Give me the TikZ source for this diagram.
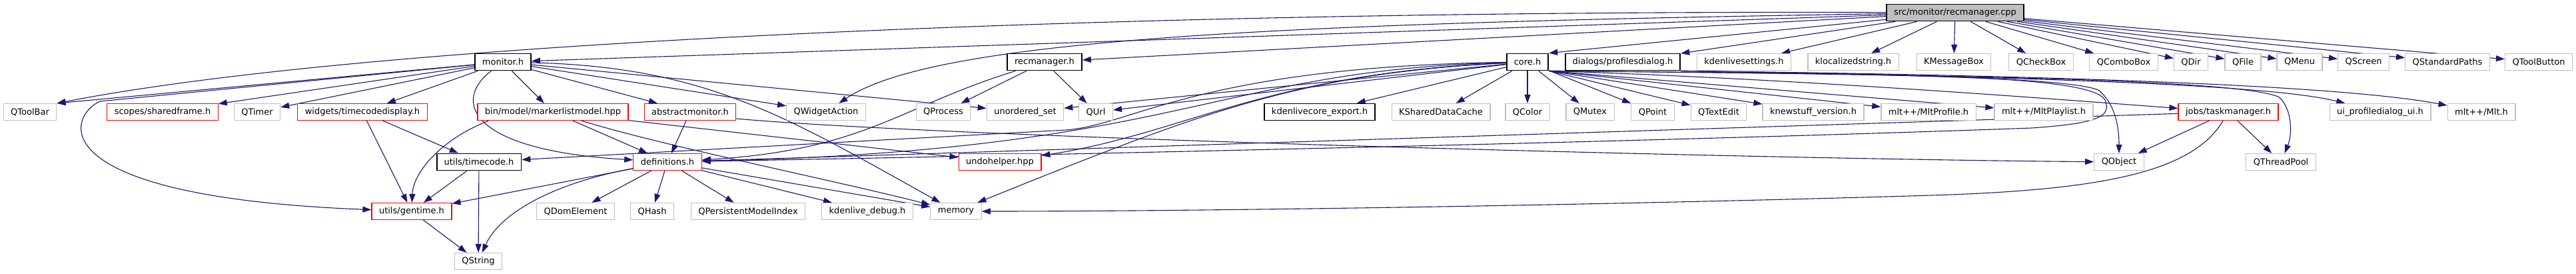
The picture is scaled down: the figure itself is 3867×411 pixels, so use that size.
\documentclass[tikz,border=0pt]{standalone}
\usepackage{fontspec}
\setmainfont{DejaVu Sans}
\usetikzlibrary{arrows.meta,backgrounds}
\definecolor{edgeblue}{HTML}{191970}
\definecolor{extgray}{HTML}{BFBFBF}

\begin{document}
\begin{tikzpicture}[x=1pt, y=-1pt,
    every node/.style={font=\fontsize{13}{15}\selectfont, inner xsep=11pt, inner ysep=0pt,
      minimum height=25pt, fill=white, line width=1.2pt},
    sysfile/.style={draw=extgray},
    fullfile/.style={draw=black, line width=1.8pt},
    cutfile/.style={draw=red},
    rootfile/.style={draw=black, fill=extgray, line width=1.8pt},
    dep/.style={draw=edgeblue, line width=1.1pt, -{Triangle[length=13pt,width=9pt]}}]
    \useasboundingbox (0,0) rectangle (3867,411);

    % The file itself
    \node[rootfile] (rc) at (2935,19) {src/monitor/recmanager.cpp};

    % First level
    \node[fullfile] (monitor) at (755,93) {monitor.h};
    \node[fullfile] (recmgr) at (1568,93) {recmanager.h};
    \node[fullfile] (core) at (2293,93) {core.h};
    \node[fullfile] (profdlg) at (2436,93) {dialogs/profilesdialog.h};
    \node[sysfile] (kdeset) at (2618,93) {kdenlivesettings.h};
    \node[sysfile] (kloc) at (2782,93) {klocalizedstring.h};
    \node[sysfile] (kmsg) at (2933,93) {KMessageBox};
    \node[sysfile] (qcheck) at (3064,93) {QCheckBox};
    \node[sysfile] (qcombo) at (3188,93) {QComboBox};
    \node[sysfile] (qdir) at (3289,93) {QDir};
    \node[sysfile] (qfile) at (3367,93) {QFile};
    \node[sysfile] (qmenu) at (3452,93) {QMenu};
    \node[sysfile] (qscreen) at (3548,93) {QScreen};
    \node[sysfile] (qstdpaths) at (3674,93) {QStandardPaths};
    \node[sysfile] (qtoolbtn) at (3811,93) {QToolButton};

    % Second level
    \node[sysfile] (qtoolbar) at (45,168) {QToolBar};
    \node[cutfile] (sharedframe) at (244,168) {scopes/sharedframe.h};
    \node[sysfile] (qtimer) at (386,168) {QTimer};
    \node[cutfile] (tcdisplay) at (544,168) {widgets/timecodedisplay.h};
    \node[cutfile] (markerlist) at (830,168) {bin/model/markerlistmodel.hpp};
    \node[cutfile] (absmon) at (1036,168) {abstractmonitor.h};
    \node[sysfile] (qwidgetaction) at (1240,168) {QWidgetAction};
    \node[sysfile] (qprocess) at (1416,168) {QProcess};
    \node[sysfile] (unordset) at (1539,168) {unordered\_set};
    \node[sysfile] (qurl) at (1645,168) {QUrl};
    \node[fullfile] (coreexport) at (1981,168) {kdenlivecore\_export.h};
    \node[sysfile] (kshared) at (2163,168) {KSharedDataCache};
    \node[sysfile] (qcolor) at (2293,168) {QColor};
    \node[sysfile] (qmutex) at (2387,168) {QMutex};
    \node[sysfile] (qpoint) at (2481,168) {QPoint};
    \node[sysfile] (qtextedit) at (2580,168) {QTextEdit};
    \node[sysfile] (knewstuff) at (2722,168) {knewstuff\_version.h};
    \node[sysfile] (mltprofile) at (2895,168) {mlt++/MltProfile.h};
    \node[sysfile] (mltplaylist) at (3068,168) {mlt++/MltPlaylist.h};
    \node[cutfile] (taskmgr) at (3345,168) {jobs/taskmanager.h};
    \node[sysfile] (uiprof) at (3573,168) {ui\_profiledialog\_ui.h};
    \node[sysfile] (mlth) at (3725,168) {mlt++/Mlt.h};

    % Third level
    \node[fullfile] (timecode) at (719,243) {utils/timecode.h};
    \node[cutfile] (definitions) at (1002,243) {definitions.h};
    \node[cutfile] (undohelper) at (1501,243) {undohelper.hpp};
    \node[sysfile] (qobject) at (3181,243) {QObject};
    \node[sysfile] (qthreadpool) at (3424,243) {QThreadPool};

    % Fourth and fifth level
    \node[cutfile] (gentime) at (618,317) {utils/gentime.h};
    \node[sysfile] (qdom) at (864,317) {QDomElement};
    \node[sysfile] (qhash) at (979,317) {QHash};
    \node[sysfile] (qpmi) at (1123,317) {QPersistentModelIndex};
    \node[sysfile] (kdebug) at (1302,317) {kdenlive\_debug.h};
    \node[sysfile] (memory) at (1435,317) {memory};
    \node[sysfile] (qstring) at (718,392) {QString};

    \begin{pgfonlayer}{background}
    % Includes of the file itself
    \draw[dep] (rc) .. controls (1800,15) and (600,55) .. (qtoolbar.north east);
    \draw[dep] (rc) .. controls (1900,35) and (1400,60) .. (qwidgetaction);
    \draw[dep] (rc) -- (monitor);
    \draw[dep] (rc) -- (recmgr);
    \draw[dep] (rc) -- (core.north east);
    \draw[dep] (rc) -- (profdlg);
    \draw[dep] (rc) -- (kdeset);
    \draw[dep] (rc) -- (kloc);
    \draw[dep] (rc) -- (kmsg);
    \draw[dep] (rc) -- (qcheck);
    \draw[dep] (rc) -- (qcombo);
    \draw[dep] (rc) -- (qdir);
    \draw[dep] (rc) -- (qfile);
    \draw[dep] (rc) -- (qmenu);
    \draw[dep] (rc) -- (qscreen);
    \draw[dep] (rc) -- (qstdpaths);
    \draw[dep] (rc) -- (qtoolbtn);

    % monitor.h
    \draw[dep] (monitor) -- (qtoolbar.north east);
    \draw[dep] (monitor) -- (150,152) .. controls (100,175) and (60,295) .. (gentime);
    \draw[dep] (monitor) -- (sharedframe);
    \draw[dep] (monitor) -- (qtimer);
    \draw[dep] (monitor) -- (tcdisplay);
    \draw[dep] (monitor) .. controls (680,150) and (700,225) .. (definitions);
    \draw[dep] (monitor) -- (markerlist);
    \draw[dep] (monitor) -- (absmon);
    \draw[dep] (monitor) -- (qwidgetaction);
    \draw[dep] (monitor) -- (unordset);
    \draw[dep] (monitor) .. controls (1060,100) and (1180,175) .. (memory);

    % bin/model/markerlistmodel.hpp and abstractmonitor.h
    \draw[dep] ([xshift=17pt]markerlist.south west) .. controls (660,210) and (620,260) .. (gentime);
    \draw[dep] (markerlist) -- (definitions);
    \draw[dep] (markerlist) .. controls (1000,220) and (1250,270) .. (memory);
    \draw[dep] (markerlist) -- (undohelper);
    \draw[dep] (absmon) -- (definitions);
    \draw[dep] ([yshift=-10pt]absmon.east) .. controls (1400,205) and (2600,238) .. (qobject);

    % time code helpers
    \draw[dep] (tcdisplay) -- (gentime);
    \draw[dep] (tcdisplay) -- (timecode);
    \draw[dep] (timecode) -- (gentime);
    \draw[dep] (timecode) -- (qstring);
    \draw[dep] (gentime) -- (qstring);

    % definitions.h
    \draw[dep] (definitions) -- (gentime);
    \draw[dep] (definitions) .. controls (830,275) and (750,320) .. (qstring);
    \draw[dep] (definitions) -- (qdom);
    \draw[dep] (definitions) -- (qhash);
    \draw[dep] (definitions) -- (qpmi);
    \draw[dep] (definitions) -- (kdebug);
    \draw[dep] (definitions) -- (memory);

    % recmanager.h
    \draw[dep] (recmgr) -- (qprocess);
    \draw[dep] (recmgr) -- (qurl);
    \draw[dep] (recmgr) .. controls (1350,160) and (1300,225) .. (definitions);

    % core.h
    \draw[dep] (core) -- (unordset);
    \draw[dep] (core) -- (qurl);
    \draw[dep] (core) .. controls (1800,100) and (1700,188) .. (1600,195) -- (timecode);
    \draw[dep] (core) .. controls (1820,105) and (1780,225) .. (definitions);
    \draw[dep] (core) .. controls (1900,110) and (1780,200) .. (undohelper);
    \draw[dep] (core) .. controls (1950,110) and (1800,170) .. (memory);
    \draw[dep] (core) -- (coreexport);
    \draw[dep] (core) -- (kshared);
    \draw[dep] (core) -- (qcolor);
    \draw[dep] (core) -- (qmutex);
    \draw[dep] (core) -- (qpoint);
    \draw[dep] (core.south east) -- (qtextedit);
    \draw[dep] (core.south east) -- (knewstuff);
    \draw[dep] (core.south east) -- (mltprofile);
    \draw[dep] (core.south east) -- (mltplaylist);
    \draw[dep] (core.south east) .. controls (2700,118) and (3100,150) .. (taskmgr);
    \draw[dep] (core.south east) .. controls (2800,110) and (3100,115) .. (3150,135)
        .. controls (3175,155) and (3181,190) .. (qobject);
    \draw[dep] (core.south east) .. controls (2900,112) and (3350,118) .. (3420,145)
        .. controls (3440,160) and (3442,200) .. (qthreadpool);

    % dialogs/profilesdialog.h
    \draw[dep] (profdlg.south east) .. controls (2900,112) and (3140,115) .. (3160,150)
        .. controls (3170,175) and (3150,185) .. (3050,192)
        .. controls (2500,212) and (1600,232) .. (definitions);
    \draw[dep] (profdlg.south east) .. controls (3000,115) and (3400,125) .. (uiprof);
    \draw[dep] (profdlg.south east) .. controls (3000,112) and (3500,125) .. (mlth);

    % jobs/taskmanager.h
    \draw[dep] (taskmgr) -- (definitions);
    \draw[dep] (taskmgr) -- (qobject);
    \draw[dep] (taskmgr) -- (qthreadpool);
    \draw[dep] (taskmgr) .. controls (3290,260) and (3150,285) .. (2900,293)
        .. controls (2400,308) and (1800,317) .. (memory);
    \end{pgfonlayer}
\end{tikzpicture}
\end{document}
